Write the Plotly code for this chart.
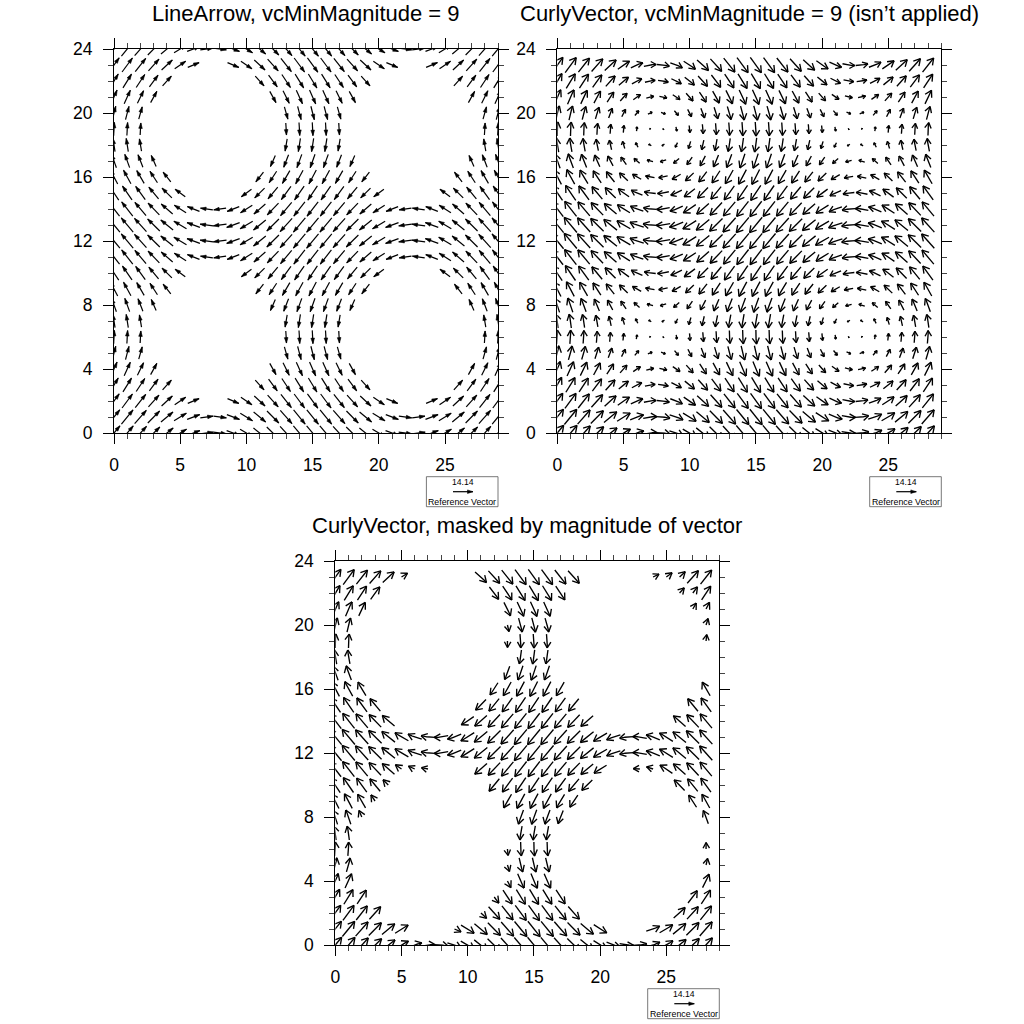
import numpy as np
import plotly.graph_objects as go

# values: u depends on the row, v on the column
x_values = list(range(30))
y_values = list(range(25))
u_by_row = [10, 9.69, 8.76, 7.29, 5.36, 3.09, 0.63, -1.87, -4.26, -6.37, -8.09, -9.30, -9.92,
            -9.92, -9.30, -8.09, -6.37, -4.26, -1.87, 0.63, 3.09, 5.36, 7.29, 8.76, 9.69]
v_by_col = [10, 9.78, 9.14, 8.09, 6.69, 5.00, 3.09, 1.05, -1.05, -3.09, -5.00, -6.69, -8.09, -9.14, -9.78,
            -10, -9.78, -9.14, -8.09, -6.69, -5.00, -3.09, -1.05, 1.05, 3.09, 5.00, 6.69, 8.09, 9.14, 9.78]
titles = ["LineArrow, vcMinMagnitude = 9",
          "CurlyVector, vcMinMagnitude = 9 (isn\u2019t applied)",
          "CurlyVector, masked by magnitude of vector"]
x_ticks = [0, 5, 10, 15, 20, 25]
y_ticks = [0, 4, 8, 12, 16, 20, 24]
ref_magnitude = 14.14
ref_label = "14.14"
ref_text = "Reference Vector"
line_min_mag = 9

# arrows seen in the third panel, row y = 0 first, one character per column 0..28:
# '#' full arrow, '>' only its forward half, '.' none
mask_rows = [
    "#############################",
    "######...>###########...#####",
    "####.......>#######.......###",
    "###.........>#####.........##",
    "##...........>###...........#",
    "##...........>###...........>",
    "##...........>###...........>",
    "##............###............",
    "##>...........####..........#",
    "###>.........######........##",
    "####>.......########......###",
    "#####>>>...##########..>>####",
    "#############################",
    "#############################",
    "#####.....##########......###",
    "####.......########........##",
    "###.........######..........#",
    "##...........####............",
    "##............###............",
    "##...........>###...........>",
    "##...........>###...........>",
    "###..........####..........>>",
    "####........######........>>#",
    "#####>.....########.....>>>##",
]

W = H = 1024
PANEL = 384.0
REF_LEN = 20.0
LINE_REF_LEN = 18.8
panels = [(114.0, 49.0), (557.3, 49.0), (335.3, 561.0)]  # left, top px
sx = PANEL / 29
sy = PANEL / 24


def field(x, y):
    return np.interp(y, y_values, u_by_row), np.interp(x, x_values, v_by_col)


def unit_dir(u, v):
    d = np.array([u * sx, v * sy])
    return d / (np.hypot(*d) + 1e-9)


def rot(d, a):
    c, s = np.cos(a), np.sin(a)
    return np.array([c * d[0] - s * d[1], s * d[0] + c * d[1]])


def line_arrows(min_mag):
    lx, ly, hx, hy = [], [], [], []
    for j, y in enumerate(y_values):
        for i, x in enumerate(x_values):
            u, v = u_by_row[j], v_by_col[i]
            m = np.hypot(u, v)
            if m < min_mag:
                continue
            d = unit_dir(u, v)
            L = LINE_REF_LEN * m / ref_magnitude
            a = np.array([x * sx, y * sy]) - d * L / 2
            b = np.array([x * sx, y * sy]) + d * L / 2
            lx += [a[0] / sx, b[0] / sx, None]
            ly += [a[1] / sy, b[1] / sy, None]
            n = np.array([-d[1], d[0]])
            p1 = b - d * 5.5 + n * 1.8
            p2 = b - d * 5.5 - n * 1.8
            hx += [b[0] / sx, p1[0] / sx, p2[0] / sx, b[0] / sx, None]
            hy += [b[1] / sy, p1[1] / sy, p2[1] / sy, b[1] / sy, None]
    return lx, ly, hx, hy


def trace_curve(x, y, length, sign):
    pts = []
    n = 12
    step = length / n
    px, py = x * sx, y * sy
    for _ in range(n):
        u, v = field(px / sx, py / sy)
        d = unit_dir(u, v) * sign
        mx, my = px + d[0] * step / 2, py + d[1] * step / 2
        u, v = field(mx / sx, my / sy)
        d = unit_dir(u, v) * sign
        px += d[0] * step
        py += d[1] * step
        pts.append((px, py))
    return pts


def curly_arrows(rows=None):
    lx, ly = [], []
    for j, y in enumerate(y_values[:-1]):
        for i, x in enumerate(x_values[:-1]):
            kind = rows[j][i] if rows else "#"
            if kind == ".":
                continue
            u, v = u_by_row[j], v_by_col[i]
            L = REF_LEN * np.hypot(u, v) / ref_magnitude
            back = trace_curve(x, y, L / 2, -1)[::-1] if kind == "#" else []
            fore = trace_curve(x, y, L / 2, 1)
            pts = back + [(x * sx, y * sy)] + fore
            lx += [p[0] / sx for p in pts] + [None]
            ly += [p[1] / sy for p in pts] + [None]
            tip = np.array(pts[-1])
            prev = np.array(pts[-3])
            d = (tip - prev) / (np.hypot(*(tip - prev)) + 1e-9)
            b = min(0.5 * L, 7.5)
            for ang in (np.radians(30), -np.radians(30)):
                q = tip - rot(d, ang) * b
                lx += [tip[0] / sx, q[0] / sx, None]
                ly += [tip[1] / sy, q[1] / sy, None]
    return lx, ly


fig = go.Figure()

for k, (left, top) in enumerate(panels):
    suffix = "" if k == 0 else str(k + 1)
    xa, ya = "x" + suffix, "y" + suffix
    if k == 0:
        lx, ly, hx, hy = line_arrows(line_min_mag)
        fig.add_trace(go.Scatter(x=lx, y=ly, mode="lines", xaxis=xa, yaxis=ya, showlegend=False,
                                 hoverinfo="skip", line=dict(color="black", width=1.2)))
        fig.add_trace(go.Scatter(x=hx, y=hy, mode="lines", fill="toself", fillcolor="black", xaxis=xa, yaxis=ya,
                                 showlegend=False, hoverinfo="skip", line=dict(color="black", width=0.6)))
    else:
        lx, ly = curly_arrows(None if k == 1 else mask_rows)
        fig.add_trace(go.Scatter(x=lx, y=ly, mode="lines", xaxis=xa, yaxis=ya, showlegend=False,
                                 hoverinfo="skip", line=dict(color="black", width=1.35)))

    axis_common = dict(showgrid=False, zeroline=False, showline=True, linecolor="black", linewidth=1.2,
                       mirror="ticks", ticks="outside", ticklen=10, tickwidth=1.2, tickcolor="black",
                       automargin=False,
                       tickfont=dict(family="Liberation Sans", size=17.5, color="black"))
    minor = dict(tickmode="linear", tick0=0, dtick=1, ticks="outside", ticklen=5,
                 tickwidth=0.8, tickcolor="#444444")
    fig.update_layout({
        ("xaxis" + suffix): dict(axis_common, range=[0, 29], tickmode="array", tickvals=x_ticks,
                                 ticktext=[str(t) for t in x_ticks], ticklabelstandoff=6, minor=minor,
                                 domain=[left / W, (left + PANEL) / W], anchor=ya),
        ("yaxis" + suffix): dict(axis_common, range=[0, 24], tickmode="array", tickvals=y_ticks,
                                 ticktext=[str(t) for t in y_ticks], ticklabelstandoff=7, minor=minor,
                                 domain=[1 - (top + PANEL) / H, 1 - top / H], anchor=xa),
    })

    fig.add_annotation(text=titles[k], xref="paper", yref="paper", x=(left + PANEL / 2) / W,
                       y=1 - (top - 36) / H, xanchor="center", yanchor="middle", showarrow=False,
                       font=dict(family="Liberation Sans", size=22, color="black"))

    # reference vector annotation
    bx1 = left + PANEL
    bx0 = bx1 - 71.6
    by0 = top + PANEL + 43.7
    by1 = by0 + 30
    fig.add_shape(type="rect", xref="paper", yref="paper", x0=bx0 / W, x1=bx1 / W, y0=1 - by0 / H, y1=1 - by1 / H,
                  line=dict(color="#555555", width=0.8), fillcolor="white")
    ay = by0 + 15
    mid = (bx0 + bx1) / 2 + 0.8
    fig.add_shape(type="line", xref="paper", yref="paper", x0=(mid - 10) / W, x1=(mid + 10) / W, y0=1 - ay / H,
                  y1=1 - ay / H, line=dict(color="black", width=1.2))
    fig.add_shape(type="path", xref="paper", yref="paper", fillcolor="black", line=dict(color="black", width=0.5),
                  path=f"M {(mid + 10) / W} {1 - ay / H} L {(mid + 4.5) / W} {1 - (ay - 1.8) / H} "
                       f"L {(mid + 4.5) / W} {1 - (ay + 1.8) / H} Z")
    fig.add_annotation(text=ref_label, xref="paper", yref="paper", x=mid / W, y=1 - (by0 + 5.5) / H,
                       xanchor="center", yanchor="middle", showarrow=False,
                       font=dict(family="Liberation Sans", size=8.6, color="black"))
    fig.add_annotation(text=ref_text, xref="paper", yref="paper", x=(bx0 + bx1) / 2 / W, y=1 - (by0 + 25) / H,
                       xanchor="center", yanchor="middle", showarrow=False,
                       font=dict(family="Liberation Sans", size=8.8, color="black"))

fig.update_layout(width=W, height=H, margin=dict(l=0, r=0, t=0, b=0), paper_bgcolor="white", plot_bgcolor="white",
                  showlegend=False)
fig.write_html("out.html", config={"displayModeBar": False},
               post_script="document.body.style.margin='0';document.documentElement.style.overflow='hidden';")
